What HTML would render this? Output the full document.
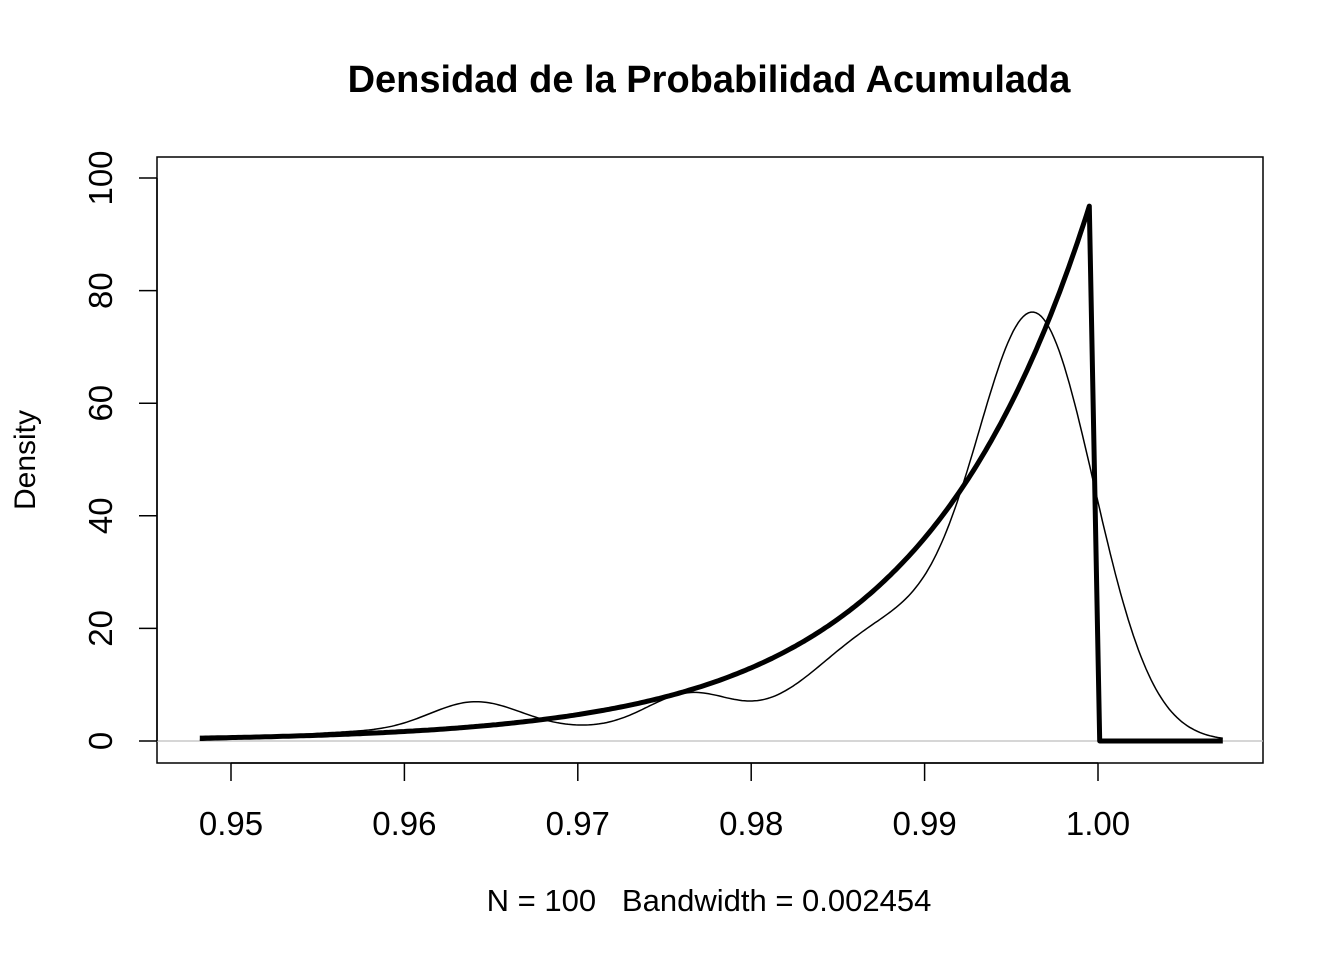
<!DOCTYPE html>
<html><head><meta charset="utf-8"><style>
body{margin:0;background:#fff}
svg text{font-family:"Liberation Sans",Arial,sans-serif;fill:#000;white-space:pre}
</style></head><body>
<svg id="s" width="1344" height="960" xmlns="http://www.w3.org/2000/svg">
<rect width="1344" height="960" fill="#fff"/>
<text x="709" y="92" font-size="38" font-weight="bold" text-anchor="middle">Densidad de la Probabilidad Acumulada</text>
<rect x="157" y="157" width="1106" height="606" fill="none" stroke="#000" stroke-width="1.5"/>
<line x1="157" y1="741" x2="1263" y2="741" stroke="#bebebe" stroke-width="1.2"/>
<g stroke="#000" stroke-width="1.5">
<line x1="231" y1="763" x2="1098" y2="763"/>
<line x1="231" y1="763" x2="231" y2="781"/><line x1="404.4" y1="763" x2="404.4" y2="781"/>
<line x1="577.8" y1="763" x2="577.8" y2="781"/><line x1="751.2" y1="763" x2="751.2" y2="781"/>
<line x1="924.6" y1="763" x2="924.6" y2="781"/><line x1="1098" y1="763" x2="1098" y2="781"/>
<line x1="157" y1="741" x2="157" y2="178"/>
<line x1="157" y1="741" x2="139" y2="741"/><line x1="157" y1="628.4" x2="139" y2="628.4"/>
<line x1="157" y1="515.8" x2="139" y2="515.8"/><line x1="157" y1="403.2" x2="139" y2="403.2"/>
<line x1="157" y1="290.6" x2="139" y2="290.6"/><line x1="157" y1="178" x2="139" y2="178"/>
</g>
<g font-size="33" text-anchor="middle">
<text x="231" y="835">0.95</text><text x="404.4" y="835">0.96</text><text x="577.8" y="835">0.97</text>
<text x="751.2" y="835">0.98</text><text x="924.6" y="835">0.99</text><text x="1098" y="835">1.00</text>
<text transform="translate(112,741) rotate(-90)">0</text>
<text transform="translate(112,628.4) rotate(-90)">20</text>
<text transform="translate(112,515.8) rotate(-90)">40</text>
<text transform="translate(112,403.2) rotate(-90)">60</text>
<text transform="translate(112,290.6) rotate(-90)">80</text>
<text transform="translate(112,178) rotate(-90)">100</text>
<text transform="translate(35,460) rotate(-90)" font-size="30">Density</text>
<text x="709" y="911" font-size="31">N = 100   Bandwidth = 0.002454</text>
</g>
<path id="thin" fill="none" stroke="#000" stroke-width="1.5"/>
<path id="thick" fill="none" stroke="#000" stroke-width="5" stroke-linejoin="round"/>
</svg>
<script>
function X(v){return 231+(v-0.95)*17340;}
function Y(v){return 741-v*5.63;}
var comps=[[1.5,0.957,0.004],[6,0.964,0.0027],[2,0.97,0.004],[7.5,0.9765,0.0026],[2,0.9825,0.003],[19,0.988,0.004],[74,0.9964,0.0034]];
var d="";
for(var i=0;i<=400;i++){var x=0.9482+(1.0072-0.9482)*i/400;var y=0;
for(var c of comps){y+=c[0]*Math.exp(-Math.pow(x-c[1],2)/(2*c[2]*c[2]));}
d+=(i?"L":"M")+X(x).toFixed(1)+","+Y(y).toFixed(1);}
document.getElementById("thin").setAttribute("d",d);
var t="";
for(var i=0;i<=300;i++){var x=0.9482+(0.9995-0.9482)*i/300;var y=95*Math.exp(-102*(0.9995-x));
t+=(i?"L":"M")+X(x).toFixed(1)+","+Y(y).toFixed(1);}
t+="L"+X(1.0001).toFixed(1)+","+Y(0)+"L"+X(1.0072).toFixed(1)+","+Y(0);
document.getElementById("thick").setAttribute("d",t);
</script>
</body></html>
